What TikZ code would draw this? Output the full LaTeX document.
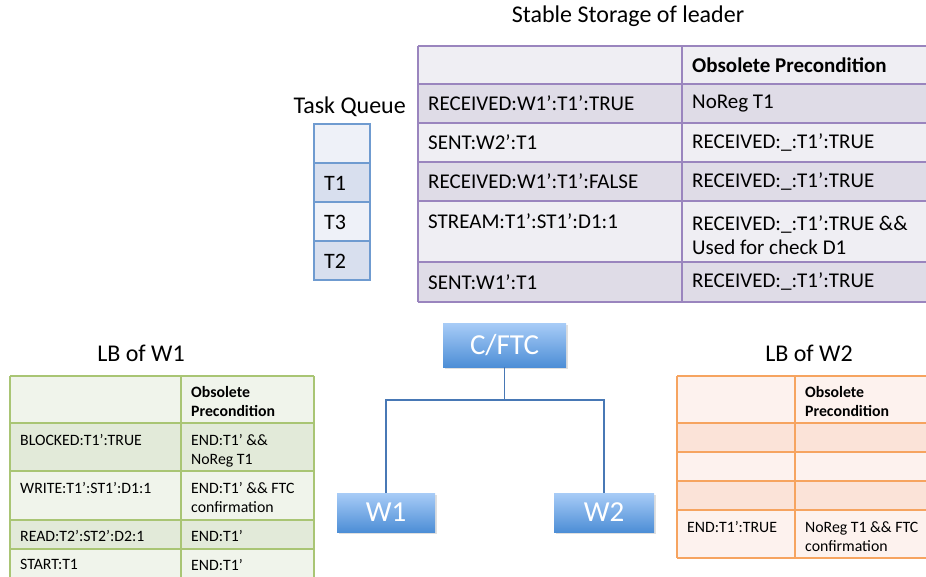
\documentclass[tikz,border=0pt]{standalone}
\usepackage{fontspec}
\setmainfont{Carlito}
\usetikzlibrary{positioning,shadows}

\definecolor{stline}{HTML}{9A85BE}
\definecolor{stlight}{HTML}{EFEEF3}
\definecolor{stdark}{HTML}{DFDCE7}
\definecolor{tqline}{HTML}{6F9BD0}
\definecolor{tqlight}{HTML}{EEF1F8}
\definecolor{tqdark}{HTML}{D8DFEE}
\definecolor{gline}{HTML}{A9C574}
\definecolor{glight}{HTML}{F0F4EB}
\definecolor{gdark}{HTML}{E2EAD9}
\definecolor{oline}{HTML}{F6A460}
\definecolor{olight}{HTML}{FDF2EE}
\definecolor{odark}{HTML}{FBE3D8}
\definecolor{boxtop}{HTML}{A8CCF7}
\definecolor{boxbot}{HTML}{4D8ED6}
\definecolor{linkcol}{HTML}{4878B5}

\tikzset{
  title/.style = {font=\fontsize{24}{28}\selectfont, inner sep=0pt},
  bigtext/.style = {font=\fontsize{21}{24}\selectfont, inner sep=0pt, anchor=west},
  bigtwo/.style = {font=\fontsize{21}{24}\selectfont, inner sep=0pt, anchor=north west, align=left},
  smalltext/.style = {font=\fontsize{15.8}{19}\selectfont, inner sep=0pt, anchor=north west, align=left},
  wbox/.style = {text=white, font=\fontsize{29}{30}\selectfont, inner sep=0pt,
    top color=boxtop, bottom color=boxbot, drop shadow={opacity=0.25, shadow xshift=1.5pt, shadow yshift=-1.5pt}},
  link/.style = {draw=linkcol, line width=1.1pt},
}

\begin{document}
\begin{tikzpicture}[x=1pt, y=-1pt]
\useasboundingbox (0,0) rectangle (926,576);

% stable storage of the leader
\node[title] (sttitle) at (628,16) {Stable Storage of leader};
\foreach \top/\bot/\col in {46/84/stlight, 84/123/stdark, 123/162/stlight, 162/201/stdark, 201/262/stlight, 262/302/stdark}
  \fill[\col] (418,\top) rectangle (926,\bot);
\foreach \y in {46,84,123,162,201,262,302}
  \draw[stline, line width=1.3pt] (418,\y) -- (926,\y);
\draw[stline, line width=1.3pt] (418,46) -- (418,302);
\draw[stline, line width=1.3pt] (682,46) -- (682,302);
\node[bigtext, font=\fontsize{21}{24}\selectfont\bfseries] (sthead) at (692,65) {Obsolete Precondition};
\node[bigtext] (st1a) at (428,103.5) {RECEIVED:W1’:T1’:TRUE};
\node[bigtext] (st1b) at (692,103.5) {NoReg T1};
\node[bigtext] (st2a) at (428,142.5) {SENT:W2’:T1};
\node[bigtext] (st2b) at (692,142.5) {RECEIVED:\_:T1’:TRUE};
\node[bigtext] (st3a) at (428,181.5) {RECEIVED:W1’:T1’:FALSE};
\node[bigtext] (st3b) at (692,181.5) {RECEIVED:\_:T1’:TRUE};
\node[bigtext] (st4a) at (428,221.5) {STREAM:T1’:ST1’:D1:1};
\node[bigtwo] (st4b) at (692,215) {RECEIVED:\_:T1’:TRUE \&\&\\Used for check D1};
\node[bigtext] (st5a) at (428,282) {SENT:W1’:T1};
\node[bigtext] (st5b) at (692,282) {RECEIVED:\_:T1’:TRUE};

% task queue
\node[title, anchor=east] (tqtitle) at (406,107) {Task Queue};
\foreach \top/\bot/\col in {124/163/tqlight, 163/202/tqdark, 202/241/tqlight, 241/280/tqdark}
  \draw[tqline, fill=\col, line width=1.2pt] (314,\top) rectangle (370,\bot);
\node[bigtext, font=\fontsize{22}{24}\selectfont] (tq1) at (324,183) {T1};
\node[bigtext, font=\fontsize{22}{24}\selectfont] (tq2) at (324,222) {T3};
\node[bigtext, font=\fontsize{22}{24}\selectfont] (tq3) at (324,261) {T2};

% local buffer of W1
\node[title] (lb1title) at (141,353) {LB of W1};
\foreach \top/\bot/\col in {376/423/glight, 423/471/gdark, 471/520/glight, 520/549/gdark, 549/590/glight}
  \fill[\col] (10,\top) rectangle (314,\bot);
\foreach \y in {376,423,471,520,549}
  \draw[gline, line width=1.3pt] (10,\y) -- (314,\y);
\foreach \x in {10,181,314}
  \draw[gline, line width=1.3pt] (\x,376) -- (\x,590);
\node[smalltext, font=\fontsize{15.8}{19}\selectfont\bfseries] (lb1head) at (191,386) {Obsolete\\Precondition};
\node[smalltext] (lb1r1a) at (20,434) {BLOCKED:T1’:TRUE};
\node[smalltext] (lb1r1b) at (191,434) {END:T1’ \&\&\\NoReg T1};
\node[smalltext] (lb1r2a) at (20,482) {WRITE:T1’:ST1’:D1:1};
\node[smalltext] (lb1r2b) at (191,482) {END:T1’ \&\& FTC\\confirmation};
\node[smalltext] (lb1r3a) at (20,530) {READ:T2’:ST2’:D2:1};
\node[smalltext] (lb1r3b) at (191,530) {END:T1’};
\node[smalltext] (lb1r4a) at (20,559) {START:T1};
\node[smalltext] (lb1r4b) at (191,559) {END:T1’};

% local buffer of W2
\node[title] (lb2title) at (809,353) {LB of W2};
\foreach \top/\bot/\col in {376/423/olight, 423/452/odark, 452/481/olight, 481/510/odark, 510/558/olight}
  \fill[\col] (677,\top) rectangle (926,\bot);
\foreach \y in {376,423,452,481,510,558}
  \draw[oline, line width=1.3pt] (677,\y) -- (926,\y);
\foreach \x in {677,795}
  \draw[oline, line width=1.3pt] (\x,376) -- (\x,558);
\node[smalltext, font=\fontsize{15.8}{19}\selectfont\bfseries] (lb2head) at (805,386) {Obsolete\\Precondition};
\node[smalltext] (lb2r1a) at (687,521) {END:T1’:TRUE};
\node[smalltext] (lb2r1b) at (805,521) {NoReg T1 \&\& FTC\\confirmation};

% coordinator and workers
\node[wbox, minimum width=123pt, minimum height=44pt] (cftc) at (504.5,345) {C/FTC};
\node[wbox, minimum width=98pt, minimum height=39pt] (w1) at (386,512.5) {W1};
\node[wbox, minimum width=100pt, minimum height=39pt] (w2) at (604,512.5) {W2};
\coordinate (fork) at (504.5,400);
\draw[link] (cftc.south) -- (fork) -| (w1.north);
\draw[link] (fork) -| (w2.north);
\end{tikzpicture}
\end{document}
